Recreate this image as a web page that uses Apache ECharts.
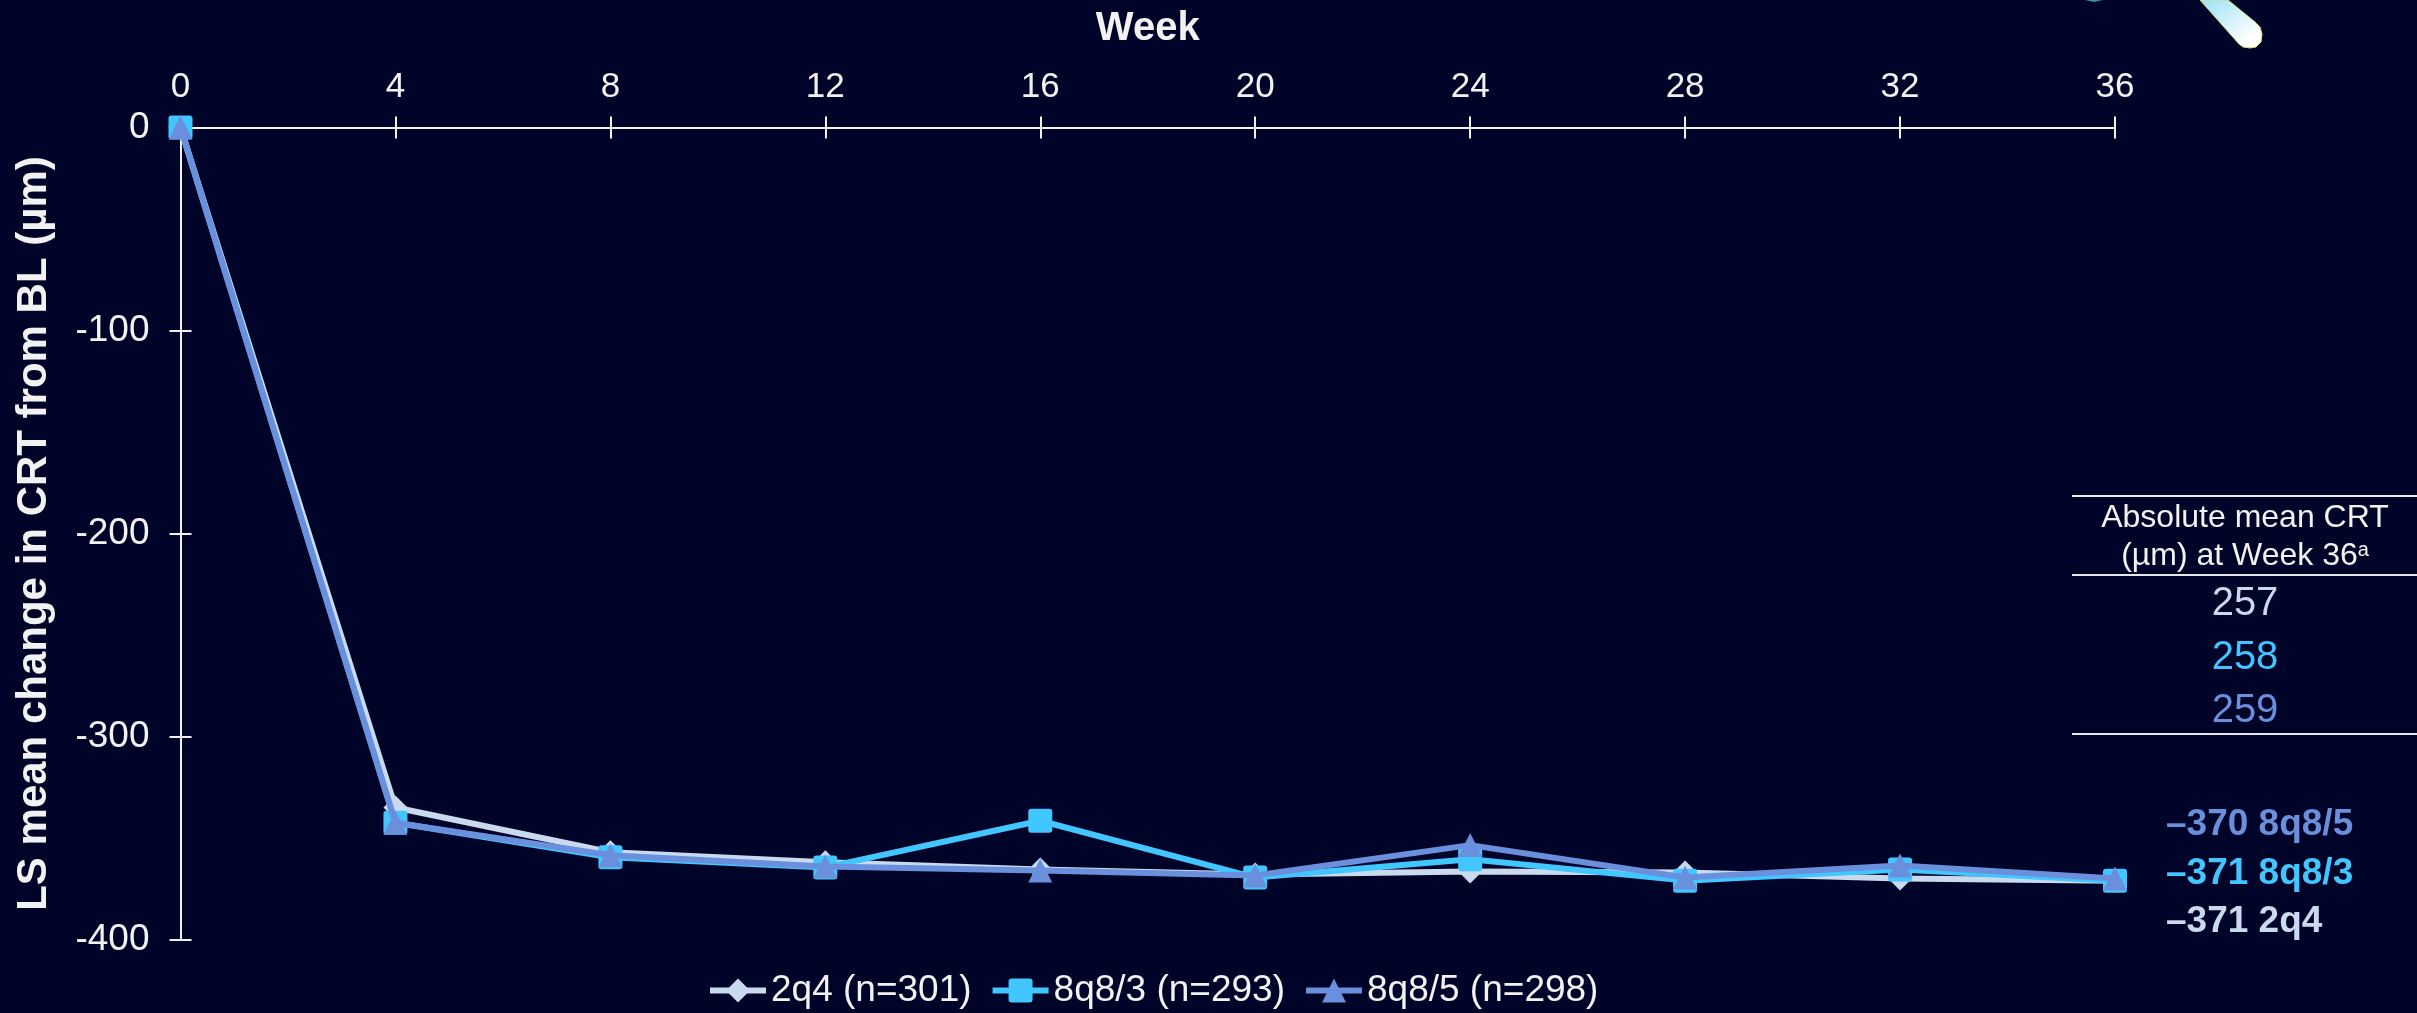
<!DOCTYPE html>
<html>
<head>
<meta charset="utf-8">
<title>LS mean change in CRT from BL</title>
<style>
  html, body { margin: 0; padding: 0; background: #000428; }
  #chart { width: 2417px; height: 1013px; }
</style>
<script src="https://cdn.jsdelivr.net/npm/echarts@6/dist/echarts.min.js"></script>
</head>
<body>
<div id="chart"></div>
<script>
// Change in central retinal thickness by study week, per treatment arm
const weeks = [0, 4, 8, 12, 16, 20, 24, 28, 32, 36];
const values2q4 = [0, -335, -357, -362, -365.5, -368, -366.5, -367, -370, -371];
const values8q83 = [0, -342.5, -359.5, -364.5, -341.5, -369.5, -360.5, -371, -365.5, -371];
const values8q85 = [0, -342.5, -358.5, -364, -366, -368.5, -353.5, -369.5, -363.5, -370];

const seriesNames = ['2q4 (n=301)', '8q8/3 (n=293)', '8q8/5 (n=298)'];
const seriesColors = ['#C9DAEE', '#41C6FF', '#6A8FDC'];

const tableHeading = ['Absolute mean CRT', '(µm) at Week 36{sup|a}'];
const absoluteMeans = ['257', '258', '259'];
const endLabels = ['–370 8q8/5', '–371 8q8/3', '–371 2q4'];
const endLabelColors = ['#6A8FDC', '#41C6FF', '#C9DAEE'];

const FONT = '"Liberation Sans", Arial, sans-serif';
const TEXT = '#F2F2F2';
const ROUNDED_SQUARE = 'path://M3 0H21A3 3 0 0 1 24 3V21A3 3 0 0 1 21 24H3A3 3 0 0 1 0 21V3A3 3 0 0 1 3 0Z';

function makeSeries(index, values, symbol) {
  return {
    name: seriesNames[index],
    type: 'line',
    z: 2 + index,
    clip: false,
    data: weeks.map((w, i) => [w, values[i]]),
    symbol: symbol,
    symbolSize: 24,
    color: seriesColors[index],
    itemStyle: { color: seriesColors[index] },
    lineStyle: { color: seriesColors[index], width: 6 }
  };
}

// A thin line axis that shows only ticks, so each tick crosses the main axis line
function tickAxis(base, inside) {
  return Object.assign({}, base, {
    axisTick: { show: true, inside: inside, length: 11, lineStyle: { color: TEXT, width: 2 } }
  });
}

const xBase = {
  type: 'value', position: 'top', min: 0, max: 36, interval: 4,
  splitLine: { show: false },
  axisLine: { show: true, onZero: false, lineStyle: { color: TEXT, width: 2 } }
};
const yBase = {
  type: 'value', position: 'left', min: -400, max: 0, interval: 100,
  splitLine: { show: false },
  axisLine: { show: true, onZero: false, lineStyle: { color: TEXT, width: 2 } }
};

const graphics = [];

// Rules of the table on the right
[496, 575, 734].forEach(y => graphics.push({
  type: 'line',
  shape: { x1: 2072, y1: y, x2: 2417, y2: y },
  style: { stroke: '#E6E6E6', lineWidth: 2 }
}));

tableHeading.forEach((line, i) => graphics.push({
  type: 'text', x: 2245, y: 518 + i * 38,
  style: {
    text: line, fill: TEXT, font: '32px ' + FONT, align: 'center', verticalAlign: 'middle',
    rich: { sup: { font: '20px ' + FONT, fill: TEXT, verticalAlign: 'top', padding: [0, 0, 10, 0] } }
  }
}));

absoluteMeans.forEach((t, i) => graphics.push({
  type: 'text', x: 2245, y: 604 + i * 53.5,
  style: { text: t, fill: seriesColors[i], font: '40px ' + FONT, align: 'center', verticalAlign: 'middle' }
}));

endLabels.forEach((t, i) => graphics.push({
  type: 'text', x: 2166, y: 825 + i * 48.5,
  style: { text: t, fill: endLabelColors[i], font: 'bold 37px ' + FONT, align: 'left', verticalAlign: 'middle' }
}));

// Slide artwork clipped by the top edge
graphics.push({
  type: 'polygon',
  shape: { points: [[2200, 0], [2239, 44], [2243, 47], [2250, 48], [2256, 47], [2261, 42], [2262, 34], [2260, 27], [2255, 22], [2228, 0]] },
  style: {
    fill: {
      type: 'linear', x: 0.2, y: 0, x2: 0.7, y2: 0.9,
      colorStops: [{ offset: 0, color: '#A4E4F8' }, { offset: 1, color: '#FFFFFF' }]
    },
    stroke: '#D5E06A', lineWidth: 1
  }
});
graphics.push({
  type: 'polygon',
  shape: { points: [[2085, 0], [2094, 2], [2103, 0]] },
  style: { fill: '#3E8F9C' }
});

const chart = echarts.init(document.getElementById('chart'), null, { renderer: 'canvas' });
chart.setOption({
  animation: false,
  backgroundColor: '#000428',
  textStyle: { fontFamily: FONT },
  grid: { left: 180.5, top: 127.5, width: 1934.5, height: 812, containLabel: false, outerBoundsMode: 'none' },
  xAxis: [
    Object.assign(tickAxis(xBase, false), {
      name: 'Week', nameLocation: 'middle', nameGap: 79,
      nameTextStyle: { color: TEXT, fontSize: 40, fontWeight: 'bold', fontFamily: FONT },
      axisLabel: { color: TEXT, fontSize: 35, margin: 23, fontFamily: FONT }
    }),
    Object.assign(tickAxis(xBase, true), { axisLabel: { show: false } })
  ],
  yAxis: [
    Object.assign(tickAxis(yBase, false), {
      name: 'LS mean change in CRT from BL (µm)', nameLocation: 'middle', nameRotate: 90, nameGap: 125,
      nameTextStyle: { color: TEXT, fontSize: 42, fontWeight: 'bold', fontFamily: FONT },
      axisLabel: { color: TEXT, fontSize: 37, margin: 31, fontFamily: FONT }
    }),
    Object.assign(tickAxis(yBase, true), { axisLabel: { show: false } })
  ],
  legend: {
    left: 707, top: 972, padding: 0, itemWidth: 56, itemHeight: 30, itemGap: 18,
    selectedMode: false,
    data: seriesNames,
    lineStyle: { width: 6 },
    textStyle: { color: TEXT, fontSize: 37, fontFamily: FONT }
  },
  series: [
    makeSeries(0, values2q4, 'diamond'),
    makeSeries(1, values8q83, ROUNDED_SQUARE),
    makeSeries(2, values8q85, 'triangle')
  ],
  graphic: { elements: graphics }
});
</script>
</body>
</html>
